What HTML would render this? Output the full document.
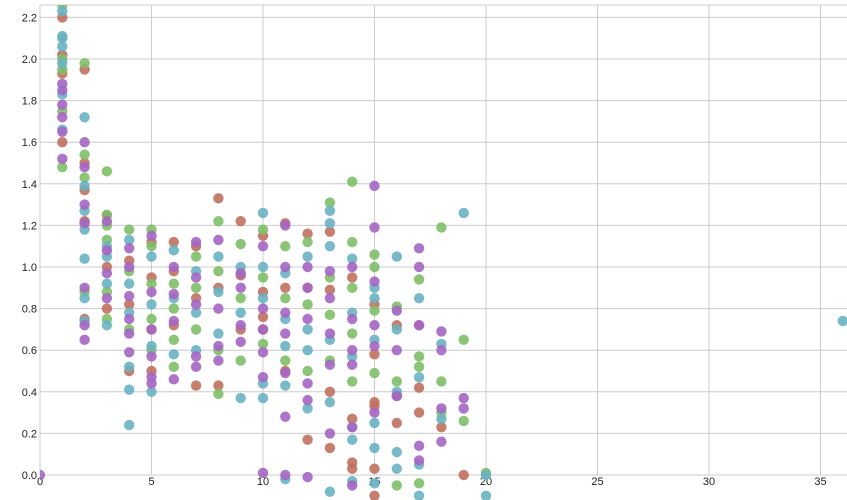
<!DOCTYPE html>
<html><head><meta charset="utf-8"><style>
body{margin:0;background:#fff}
svg{display:block;font-family:"Liberation Sans",sans-serif;font-size:11px}
</style></head><body>
<svg id="chart" width="847" height="500">
<defs><clipPath id="clip"><rect x="40" y="5" width="807" height="495"/></clipPath></defs>
<g id="grid"></g>
<g id="axes"></g>
<g id="points" clip-path="url(#clip)"></g>
</svg>
<script>
const xTicks=[0,5,10,15,20,25,30,35];
const yTicks=[0,0.2,0.4,0.6,0.8,1.0,1.2,1.4,1.6,1.8,2.0,2.2];
const seriesNames=["red","green","teal","purple"];
const seriesColors=["#c0705f","#80bf68","#69b3c2","#a466c3"];
const redData=[[1,2.2],[1,2.02],[1,1.93],[1,1.6],[2,1.95],[2,1.5],[2,1.37],[2,1.22],[2,0.75],[3,1.25],[3,1.0],[3,0.8],[4,1.03],[4,0.82],[4,0.5],[5,1.12],[5,0.95],[5,0.7],[5,0.5],[6,1.12],[6,0.98],[6,0.72],[7,1.1],[7,0.85],[7,0.43],[8,1.33],[8,0.9],[8,0.43],[9,1.22],[9,0.96],[9,0.7],[10,1.15],[10,0.88],[10,0.76],[10,0.7],[11,1.21],[11,0.9],[11,0.5],[12,1.16],[12,0.9],[12,0.17],[13,1.17],[13,0.89],[13,0.4],[13,0.13],[14,0.95],[14,0.27],[14,0.06],[14,0.03],[15,0.82],[15,0.58],[15,0.35],[15,0.33],[15,0.03],[15,-0.1],[16,0.72],[16,0.38],[16,0.25],[17,0.72],[17,0.42],[17,0.3],[18,0.23],[19,0.0]];
const greenData=[[1,2.26],[1,2.0],[1,1.95],[1,1.75],[1,1.48],[2,1.98],[2,1.54],[2,1.43],[2,0.88],[3,1.46],[3,1.25],[3,1.2],[3,1.13],[3,0.88],[3,0.75],[4,1.18],[4,0.98],[4,0.7],[5,1.18],[5,1.1],[5,0.92],[5,0.75],[5,0.6],[6,0.92],[6,0.8],[6,0.65],[6,0.52],[7,1.05],[7,0.9],[7,0.7],[8,1.22],[8,0.98],[8,0.6],[8,0.39],[9,1.11],[9,0.85],[9,0.55],[10,1.18],[10,0.95],[10,0.63],[11,1.1],[11,0.85],[11,0.55],[12,1.12],[12,0.82],[12,0.5],[13,1.31],[13,0.95],[13,0.77],[13,0.55],[14,1.41],[14,1.12],[14,0.9],[14,0.68],[14,0.45],[15,1.06],[15,1.0],[15,0.79],[15,0.49],[16,0.81],[16,0.45],[16,-0.05],[17,0.94],[17,0.57],[17,0.52],[17,-0.04],[18,1.19],[18,0.45],[18,0.3],[19,0.65],[19,0.26],[20,0.01]];
const tealData=[[1,2.23],[1,2.11],[1,2.1],[1,2.06],[1,1.98],[1,1.83],[1,1.66],[2,1.72],[2,1.39],[2,1.27],[2,1.18],[2,1.04],[2,0.85],[2,0.74],[3,1.1],[3,1.05],[3,0.92],[3,0.72],[4,1.13],[4,0.92],[4,0.78],[4,0.52],[4,0.41],[4,0.24],[5,1.05],[5,0.82],[5,0.62],[5,0.4],[6,1.08],[6,0.85],[6,0.58],[7,0.98],[7,0.78],[7,0.6],[8,1.05],[8,0.88],[8,0.68],[9,1.0],[9,0.78],[9,0.37],[10,1.26],[10,1.0],[10,0.85],[10,0.44],[10,0.37],[11,0.97],[11,0.75],[11,0.62],[11,0.43],[11,-0.02],[12,1.05],[12,0.7],[12,0.6],[12,0.32],[13,1.27],[13,1.21],[13,1.1],[13,0.65],[13,0.35],[13,-0.08],[14,1.04],[14,0.78],[14,0.57],[14,0.23],[14,0.17],[14,-0.03],[15,0.9],[15,0.85],[15,0.65],[15,0.25],[15,0.13],[15,-0.04],[16,1.05],[16,0.7],[16,0.4],[16,0.11],[16,0.03],[17,0.85],[17,0.47],[17,0.05],[17,-0.1],[18,0.63],[18,0.27],[19,1.26],[20,-0.1],[20,0.0],[36,0.74]];
const purpleData=[[0,0.0],[1,1.88],[1,1.85],[1,1.78],[1,1.72],[1,1.65],[1,1.52],[2,1.6],[2,1.48],[2,1.3],[2,1.21],[2,0.9],[2,0.72],[2,0.65],[3,1.22],[3,1.08],[3,0.97],[3,0.85],[4,1.09],[4,1.0],[4,0.86],[4,0.75],[4,0.68],[4,0.59],[5,1.15],[5,0.88],[5,0.7],[5,0.57],[5,0.47],[5,0.44],[6,1.0],[6,0.87],[6,0.74],[6,0.46],[7,1.12],[7,0.95],[7,0.82],[7,0.57],[7,0.52],[8,1.13],[8,0.8],[8,0.62],[8,0.55],[9,0.97],[9,0.9],[9,0.72],[9,0.64],[10,1.1],[10,0.8],[10,0.7],[10,0.59],[10,0.47],[10,0.01],[11,1.2],[11,1.0],[11,0.78],[11,0.68],[11,0.49],[11,0.28],[11,0.0],[12,1.0],[12,0.9],[12,0.75],[12,0.44],[12,0.36],[12,-0.01],[13,0.98],[13,0.85],[13,0.68],[13,0.53],[13,0.2],[14,1.0],[14,0.75],[14,0.6],[14,0.53],[14,0.23],[14,-0.05],[15,1.39],[15,1.19],[15,0.93],[15,0.72],[15,0.62],[15,0.3],[16,0.79],[16,0.6],[16,0.38],[17,1.09],[17,1.0],[17,0.72],[17,0.14],[17,0.07],[18,0.69],[18,0.6],[18,0.32],[18,0.16],[19,0.37],[19,0.32]];
const allSeries=[redData,greenData,tealData,purpleData];

const NS="http://www.w3.org/2000/svg";
const xS=v=>40+v*22.3;
const yS=v=>475-v*208;
function mk(tag,attrs,parent){const e=document.createElementNS(NS,tag);for(const k in attrs)e.setAttribute(k,attrs[k]);parent.appendChild(e);return e;}
const grid=document.getElementById('grid'),axes=document.getElementById('axes'),pts=document.getElementById('points');
yTicks.forEach(t=>{
  const l=mk('line',{x1:40,x2:847,y1:yS(t),y2:yS(t),stroke:'#cccccc','stroke-width':1},grid);
  
  
  const tx=mk('text',{x:37,y:yS(t)+4,'text-anchor':'end',fill:'#222'},axes);
  tx.textContent=t.toFixed(1);
  
  
});
mk('line',{x1:40,x2:847,y1:5,y2:5,stroke:'#cccccc'},grid);
xTicks.forEach(t=>{
  const l=mk('line',{x1:xS(t),x2:xS(t),y1:5,y2:475,stroke:'#cccccc','stroke-width':1},grid);
  
  
  const tx=mk('text',{x:xS(t),y:485,'text-anchor':'middle',fill:'#222'},axes);
  tx.textContent=String(t);
  
  
});
allSeries.forEach((data,si)=>{
  data.forEach(d=>{
    const c=mk('circle',{cx:xS(d[0]),cy:yS(d[1]),r:5.2,fill:seriesColors[si],'fill-opacity':0.9},pts);
    
    
  });
});
</script>
</body></html>
